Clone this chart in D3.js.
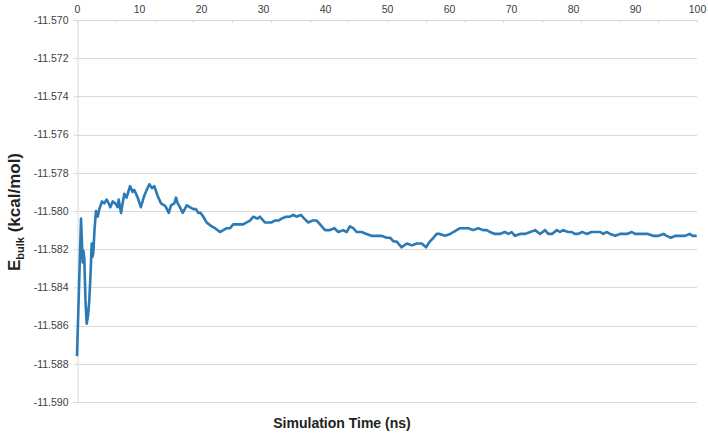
<!DOCTYPE html>
<html><head><meta charset="utf-8">
<script src="https://cdn.jsdelivr.net/npm/d3@7"></script>
<style>body{margin:0;background:#fff;}svg{display:block;font-family:"Liberation Sans",Arial,sans-serif;}</style>
</head><body><svg id="c" width="708" height="436"></svg>
<script>
const timeNs = [0,0.65,0.92,1.05,1.18,1.37,1.56,1.77,1.98,2.2,2.37,2.5,2.63,2.82,3.06,3.34,3.6,4.03,4.4,4.79,5.11,5.37,5.76,6.18,6.56,6.73,7.1,7.63,8.0,8.55,8.98,9.24,9.79,10.3,10.85,11.24,11.66,12.1,12.47,13.0,13.55,14.1,14.35,14.8,15.16,15.7,15.97,16.24,16.6,17.05,17.7,18.2,18.76,19.2,19.56,19.95,20.37,20.9,21.3,21.7,22.26,23.06,23.6,24.15,24.68,25.2,26.0,26.8,27.37,27.9,28.44,29.1,29.5,30.3,30.85,31.4,31.9,32.5,33.0,33.7,34.35,34.9,35.4,36.1,36.66,37.3,37.95,38.66,39.2,40.0,40.8,41.5,42.15,42.95,43.5,44.0,44.56,45.1,45.9,46.7,47.5,48.3,49.1,49.95,50.5,51.1,51.56,52.37,53.2,54.0,54.8,55.6,56.3,56.9,57.5,58.0,58.5,59.35,60.2,60.7,61.24,61.8,62.3,63.1,63.9,64.7,65.5,66.1,66.6,67.4,68.2,69.0,69.6,70.1,70.65,71.45,72.26,73.1,73.9,74.7,75.5,76.0,76.6,77.4,77.9,78.4,79.2,79.8,80.3,80.85,81.5,82.2,83.0,83.5,84.4,84.9,85.4,86.0,86.8,87.6,88.7,89.5,90.0,90.5,91.3,92.1,92.9,93.8,94.6,95.1,95.8,96.45,97.3,98.1,98.8,99.3,99.95];
const eBulk = [-11.5876,-11.5804,-11.5827,-11.5821,-11.5825,-11.5847,-11.5859,-11.5855,-11.5847,-11.5832,-11.5817,-11.5824,-11.5822,-11.5810,-11.5800,-11.5803,-11.5799,-11.5795,-11.5796,-11.5794,-11.5796,-11.5798,-11.5795,-11.5796,-11.5798,-11.5794,-11.5801,-11.5791,-11.5793,-11.5787,-11.5790,-11.5789,-11.5793,-11.5798,-11.5792,-11.5789,-11.5786,-11.5788,-11.5787,-11.5792,-11.5796,-11.5797,-11.5798,-11.5801,-11.5797,-11.5796,-11.5793,-11.5796,-11.5798,-11.5801,-11.5797,-11.5798,-11.5799,-11.5799,-11.5801,-11.5801,-11.5803,-11.5806,-11.5807,-11.5808,-11.5809,-11.5811,-11.5810,-11.5809,-11.5809,-11.5807,-11.5807,-11.5807,-11.5806,-11.5805,-11.5803,-11.5804,-11.5803,-11.5806,-11.5806,-11.5806,-11.5805,-11.5805,-11.5804,-11.5803,-11.5803,-11.5802,-11.5803,-11.5802,-11.5804,-11.5806,-11.5805,-11.5805,-11.5807,-11.5810,-11.5810,-11.5809,-11.5811,-11.5810,-11.5811,-11.5808,-11.5809,-11.5811,-11.5811,-11.5812,-11.5813,-11.5813,-11.5813,-11.5814,-11.5814,-11.5816,-11.5816,-11.5819,-11.5817,-11.5818,-11.5817,-11.5817,-11.5819,-11.5816,-11.5814,-11.5812,-11.5812,-11.5813,-11.5812,-11.5811,-11.5810,-11.5809,-11.5809,-11.5809,-11.5810,-11.5809,-11.5810,-11.5810,-11.5811,-11.5812,-11.5812,-11.5811,-11.5812,-11.5811,-11.5813,-11.5812,-11.5812,-11.5811,-11.5810,-11.5812,-11.5810,-11.5812,-11.5812,-11.5810,-11.5811,-11.5810,-11.5811,-11.5811,-11.5812,-11.5812,-11.5811,-11.5812,-11.5811,-11.5811,-11.5811,-11.5812,-11.5811,-11.5812,-11.5813,-11.5812,-11.5812,-11.5811,-11.5812,-11.5812,-11.5812,-11.5812,-11.5813,-11.5813,-11.5812,-11.5813,-11.5814,-11.5813,-11.5813,-11.5813,-11.5812,-11.5813,-11.5813];
const xTicks = [0,10,20,30,40,50,60,70,80,90,100];
const yTicks = [-11.570,-11.572,-11.574,-11.576,-11.578,-11.580,-11.582,-11.584,-11.586,-11.588,-11.590];

const svg = d3.select("#c");
const m = {l:77, r:697, t:20, b:402};
const x = d3.scaleLinear().domain([0,100]).range([m.l,m.r]);
const y = d3.scaleLinear().domain([-11.570,-11.590]).range([m.t,m.b]);

svg.append("g").selectAll("line").data(yTicks).join("line")
  .attr("x1",m.l).attr("x2",m.r).attr("y1",d=>Math.round(y(d))+0.5).attr("y2",d=>Math.round(y(d))+0.5)
  .attr("stroke","#d9d9d9").attr("stroke-width",1);
const yAxis = d3.axisLeft(y).tickValues(yTicks).tickFormat(d3.format(".3f")).tickSize(4).tickPadding(5);
const gy = svg.append("g").attr("transform",`translate(${m.l+0.5},0)`).call(yAxis);
gy.select(".domain").attr("stroke","#d9d9d9");
gy.selectAll(".tick line").attr("stroke","#d9d9d9");
gy.selectAll(".tick text").attr("font-size","10.5px").attr("fill","#404040").attr("font-family","Liberation Sans, Arial, sans-serif").text(d=>d3.format(".3f")(d).replace("−","-"));
const xAxis = d3.axisTop(x).tickValues(xTicks).tickSize(0).tickPadding(7);
const gx = svg.append("g").attr("transform",`translate(0,${m.t})`).call(xAxis);
gx.select(".domain").remove();
gx.selectAll(".tick text").attr("font-size","10.5px").attr("fill","#404040").attr("font-family","Liberation Sans, Arial, sans-serif");
const minor = d3.range(0,17).map(i=>i*100/16);
svg.append("g").selectAll("line").data(minor).join("line")
  .attr("x1",d=>Math.round(x(d))+0.5).attr("x2",d=>Math.round(x(d))+0.5)
  .attr("y1",m.t).attr("y2",m.t+3).attr("stroke","#d9d9d9");

const line = d3.line().x((d,i)=>x(timeNs[i])).y(d=>y(d));
svg.append("path").datum(eBulk).attr("d",line).attr("fill","none")
  .attr("stroke","#2a7ab6").attr("stroke-width",2.6).attr("stroke-linejoin","round");

svg.append("text").attr("x",342).attr("y",428).attr("text-anchor","middle")
  .attr("font-size","14px").attr("font-weight","bold").attr("fill","#222").text("Simulation Time (ns)");
const yt = svg.append("text").attr("transform","translate(20,212) rotate(-90)").attr("text-anchor","middle")
  .attr("font-size","17px").attr("font-weight","bold").attr("fill","#222");
yt.append("tspan").text("E");
yt.append("tspan").attr("font-size","11px").attr("dy",4).text("bulk");
yt.append("tspan").attr("dy",-4).text(" (kcal/mol)");
</script></body></html>
